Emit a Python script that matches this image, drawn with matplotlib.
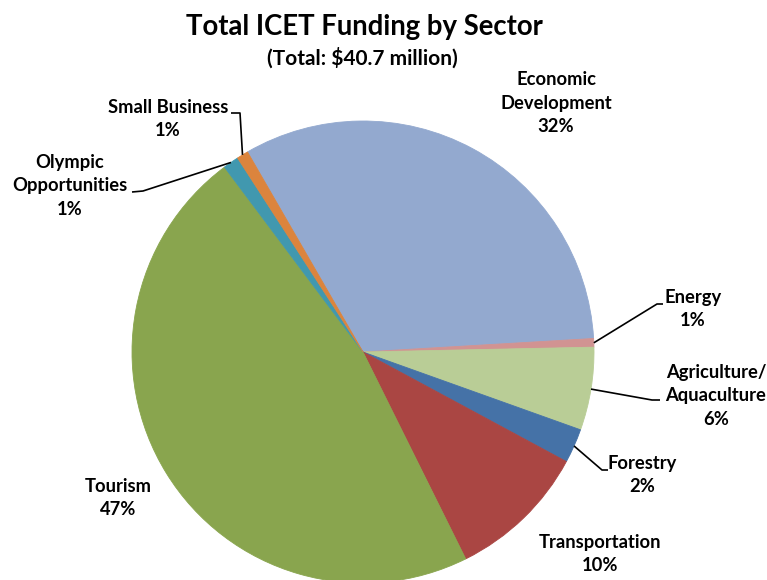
import numpy as np
import matplotlib.pyplot as plt

# Figure size in pixels
W, H = 767, 580

# Chart data (share of total funding, percent), clockwise from the top left
SECTORS = ["Economic\nDevelopment", "Energy", "Agriculture/\nAquaculture", "Forestry",
           "Transportation", "Tourism", "Olympic\nOpportunities", "Small Business"]
SHARES = [32.4, 0.6, 5.8, 2.4, 9.8, 47.1, 1.1, 0.8]
COLOURS = ["#93A9CF", "#D19392", "#B9CD96", "#4572A7",
           "#AA4643", "#89A54E", "#4198AF", "#DB843D"]
TITLE = "Total ICET Funding by Sector"
SUBTITLE = "(Total: $40.7 million)"

# Layout (pixels from the top left corner)
CENTER = (363, 352)
RADIUS = 231
LABEL_POS = [(556, 103), (693, 309), (716, 396), (642, 475),
             (600, 554), (118, 498), (70, 186), (168, 119)]
# leader line: elbow point and end point next to the label (None = no line)
LEADERS = [None, [(657, 304), (663, 304)], [(652, 400), (660, 400)],
           [(602, 470), (608, 470)], None, None,
           [(143, 191), (132, 192)], [(240, 113), (231, 113)]]

FONT = "Lato"


def flip(p):
    """Converts a pixel position from the top into axes data coordinates"""
    return (p[0], H - p[1])


fig = plt.figure(figsize=(W / 100, H / 100), dpi=100)
ax = fig.add_axes([0, 0, 1, 1])

wedges, _ = ax.pie(SHARES, colors=COLOURS, startangle=120, counterclock=False,
                   center=flip(CENTER), radius=RADIUS,
                   wedgeprops=dict(linewidth=0.6))
for wedge, colour in zip(wedges, COLOURS):
    wedge.set_edgecolor(colour)

ax.set_xlim(0, W)
ax.set_ylim(0, H)
ax.set_aspect("equal")
ax.axis("off")

# Data labels with percentages
for name, share, pos in zip(SECTORS, SHARES, LABEL_POS):
    x, y = flip(pos)
    ax.text(x, y, f"{name}\n{round(share):.0f}%", ha="center", va="center",
            fontsize=13.2, fontweight="bold", family=FONT, linespacing=1.45)

# Leader lines from the middle of the wedge's arc to the label
for wedge, leader in zip(wedges, LEADERS):
    if leader is None:
        continue
    mid = np.deg2rad((wedge.theta1 + wedge.theta2) / 2)
    cx, cy = wedge.center
    start = (cx + wedge.r * np.cos(mid), cy + wedge.r * np.sin(mid))
    pts = [start] + [flip(p) for p in leader]
    xs, ys = zip(*pts)
    ax.plot(xs, ys, color="black", linewidth=1.2, solid_capstyle="butt")

ax.text(W / 2 - 19, H - 27, TITLE, ha="center", va="center",
        fontsize=19.8, fontweight="bold", family=FONT)
ax.text(W / 2 - 21, H - 58, SUBTITLE, ha="center", va="center",
        fontsize=15, fontweight="bold", family=FONT)

fig.savefig("out.png", dpi=100)
